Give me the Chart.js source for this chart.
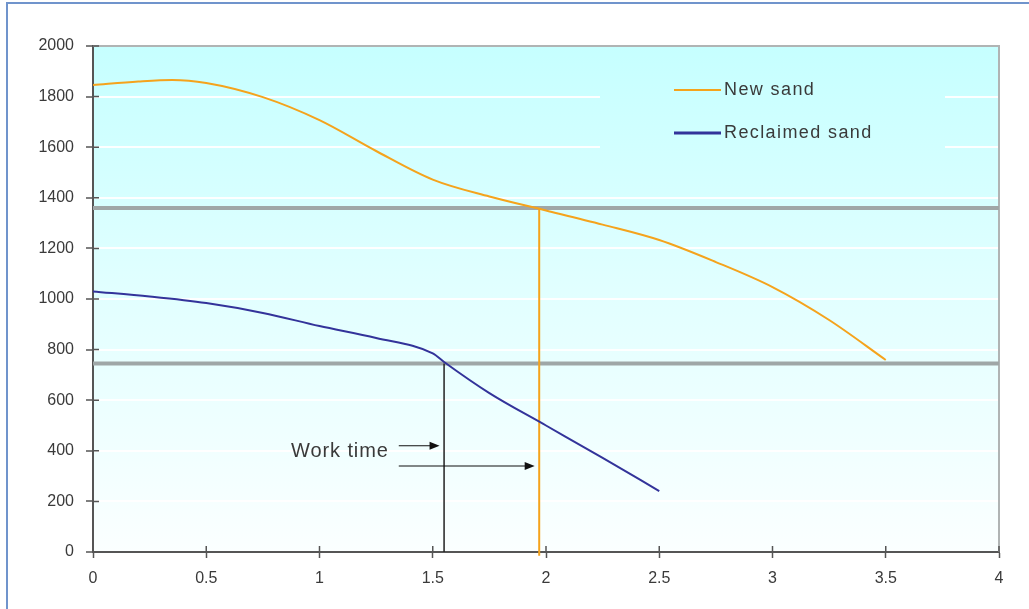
<!DOCTYPE html>
<html>
<head>
<meta charset="utf-8">
<script src="https://cdn.jsdelivr.net/npm/chart.js@4.4.0/dist/chart.umd.min.js"></script>
<style>
  html, body { margin: 0; padding: 0; background: #fff; }
  #wrap { position: relative; width: 1029px; height: 609px; overflow: hidden; }
  #frame { position: absolute; left: 6px; top: 2px; width: 1100px; height: 700px;
           border-left: 2px solid #7094cc; border-top: 2px solid #7094cc; pointer-events: none; }
</style>
</head>
<body>
<div id="wrap">
  <canvas id="work_chart" width="1029" height="609"></canvas>
  <div id="frame"></div>
</div>
<script>
// curve data
const timeNew = [0, 0.2, 0.35, 0.5, 0.75, 1, 1.25, 1.5, 1.75, 2, 2.25, 2.5, 2.75, 3, 3.25, 3.5]
const newSand = [1846, 1860, 1866, 1854, 1798, 1707, 1585, 1472, 1405, 1350, 1294, 1233, 1146, 1047, 917, 759]

const timeRecl = [0, 0.25, 0.5, 0.75, 1, 1.25, 1.5, 1.55, 1.75, 2, 2.25, 2.5]
const reclSand = [1030, 1010, 984, 945, 893, 846, 785, 751, 628, 500, 372, 241]

// reference levels and work time markers
const levelNew = 1360
const levelRecl = 745
const workNew = 1.97
const workRecl = 1.55

// arrows: [x from, x to, y]
const arrow1 = [1.35, 1.53, 420]
const arrow2 = [1.35, 1.95, 340]
const arrowLabel = 'Work time'

const xTicks = [0, 0.5, 1, 1.5, 2, 2.5, 3, 3.5, 4]

const fontFam = '"Liberation Sans", Arial, sans-serif'

function pts(xs, ys) {
  return xs.map((x, i) => ({ x: x, y: ys[i] }))
}

const data = {
  datasets: [
    {
      label: 'New sand',
      data: pts(timeNew, newSand),
      borderColor: '#f5a31c',
      borderWidth: 2,
      pointRadius: 0,
      cubicInterpolationMode: 'monotone',
      order: 1
    },
    {
      label: 'Reclaimed sand',
      data: pts(timeRecl, reclSand),
      borderColor: '#33339a',
      borderWidth: 2,
      pointRadius: 0,
      cubicInterpolationMode: 'monotone',
      order: 1
    },
    {
      label: 'levelNew',
      data: [{ x: 0, y: levelNew }, { x: 4, y: levelNew }],
      borderColor: '#9fa7a7',
      borderWidth: 4,
      pointRadius: 0,
      order: 3
    },
    {
      label: 'levelRecl',
      data: [{ x: 0, y: levelRecl }, { x: 4, y: levelRecl }],
      borderColor: '#9fa7a7',
      borderWidth: 4,
      pointRadius: 0,
      order: 3
    },
    {
      label: 'workRecl',
      data: [{ x: workRecl, y: 0 }, { x: workRecl, y: levelRecl }],
      borderColor: '#222',
      borderWidth: 1.5,
      pointRadius: 0,
      order: 2
    },
    {
      label: 'workNew',
      data: [{ x: workNew, y: -15 }, { x: workNew, y: levelNew }],
      borderColor: '#f5a31c',
      borderWidth: 2,
      pointRadius: 0,
      clip: false,
      order: 2
    }
  ]
};

function grad(ctx, area) {
  const g = ctx.createLinearGradient(0, area.top, 0, area.bottom)
  g.addColorStop(0, '#c6ffff')
  g.addColorStop(0.5, '#e2ffff')
  g.addColorStop(1, '#fbffff')
  return g
}

const backPlugin = {
  id: 'back',
  beforeDraw(chart) {
    const { ctx, chartArea: a } = chart
    ctx.save()
    ctx.fillStyle = grad(ctx, a)
    ctx.fillRect(a.left, a.top, a.right - a.left, a.bottom - a.top)
    ctx.restore()
  },
  beforeDatasetsDraw(chart) {
    const { ctx, chartArea: a } = chart
    ctx.save()
    // legend box hides the grid
    ctx.fillStyle = grad(ctx, a)
    ctx.fillRect(600, 60, 345, 100)
    // top and right border
    ctx.strokeStyle = '#b0b4b4'
    ctx.lineWidth = 2
    ctx.beginPath()
    ctx.moveTo(a.left, a.top)
    ctx.lineTo(a.right, a.top)
    ctx.lineTo(a.right, a.bottom)
    ctx.stroke()
    ctx.restore()
  },
  afterDraw(chart) {
    const { ctx, chartArea: a } = chart
    const xs = chart.scales.x, ys = chart.scales.y
    ctx.save()
    // inner half of tick marks
    ctx.strokeStyle = '#555'
    ctx.lineWidth = 1.5
    ctx.beginPath()
    ys.ticks.forEach(t => {
      const py = ys.getPixelForValue(t.value)
      ctx.moveTo(a.left, py); ctx.lineTo(a.left + 6, py)
    })
    xs.ticks.forEach(t => {
      const px = xs.getPixelForValue(t.value)
      ctx.moveTo(px, a.bottom); ctx.lineTo(px, a.bottom - 6)
    })
    ctx.stroke()

    // arrows
    ctx.strokeStyle = '#111'
    ctx.fillStyle = '#111'
    ctx.lineWidth = 1.2;
    [arrow1, arrow2].forEach(ar => {
      const x0 = xs.getPixelForValue(ar[0]), x1 = xs.getPixelForValue(ar[1])
      const py = ys.getPixelForValue(ar[2])
      ctx.beginPath()
      ctx.moveTo(x0, py); ctx.lineTo(x1 - 8, py)
      ctx.stroke()
      ctx.beginPath()
      ctx.moveTo(x1, py); ctx.lineTo(x1 - 10, py - 4); ctx.lineTo(x1 - 10, py + 4)
      ctx.closePath(); ctx.fill()
    })
    ctx.font = '20px ' + fontFam
    ctx.letterSpacing = '0.9px'
    ctx.fillStyle = '#3a3a3a'
    ctx.textBaseline = 'middle'
    ctx.textAlign = 'right'
    ctx.fillText(arrowLabel, xs.getPixelForValue(arrow1[0]) - 10, ys.getPixelForValue((arrow1[2] + arrow2[2]) / 2) - 4)

    // legend
    const items = [data.datasets[0], data.datasets[1]]
    ctx.textAlign = 'left'
    ctx.font = '18px ' + fontFam
    ctx.letterSpacing = '1.4px'
    items.forEach((d, i) => {
      const ly = 90 + i * 43
      ctx.strokeStyle = d.borderColor
      ctx.lineWidth = i == 0 ? 2 : 3
      ctx.beginPath()
      ctx.moveTo(674, ly); ctx.lineTo(721, ly)
      ctx.stroke()
      ctx.fillStyle = '#3a3a3a'
      ctx.fillText(d.label, 724, ly)
    })
    ctx.restore()
  }
}

const config = {
  type: 'line',
  data: data,
  plugins: [backPlugin],
  options: {
    responsive: false,
    animation: false,
    layout: { padding: { top: 46, right: 30, left: 0, bottom: 0 } },
    plugins: { legend: { display: false }, tooltip: { enabled: false } },
    scales: {
      x: {
        type: 'linear',
        min: 0, max: 4,
        afterBuildTicks: axis => { axis.ticks = xTicks.map(v => ({ value: v })) },
        afterFit: axis => { axis.height = 57 },
        grid: { drawOnChartArea: false, tickLength: 6, tickColor: '#555', tickWidth: 1.5 },
        border: { display: true, color: '#555', width: 2 },
        ticks: {
          color: '#3a3a3a', font: { family: fontFam, size: 16 }, padding: 11,
          callback: v => String(v)
        }
      },
      y: {
        min: 0, max: 2000,
        afterFit: axis => { axis.width = 93 },
        grid: { color: 'rgba(255,255,255,0.95)', lineWidth: 2, tickLength: 7, tickColor: '#555', tickWidth: 1.5 },
        border: { display: true, color: '#555', width: 2 },
        ticks: {
          stepSize: 200, color: '#3a3a3a', font: { family: fontFam, size: 16 }, padding: 12,
          callback: v => String(v)
        }
      }
    }
  }
};

const myChart = new Chart(document.getElementById('work_chart'), config);
</script>
</body>
</html>
